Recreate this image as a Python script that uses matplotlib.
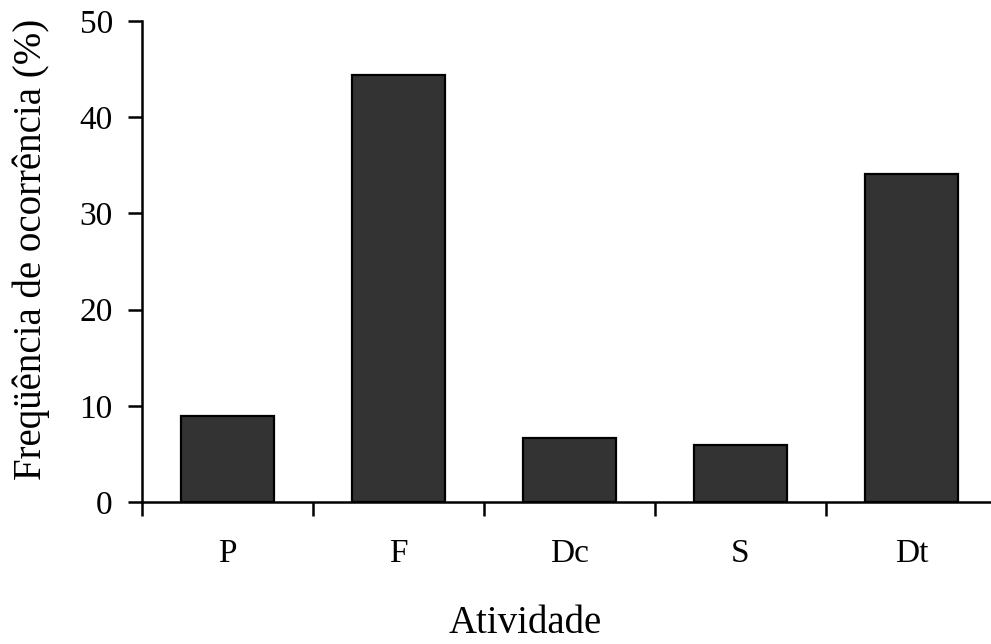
import numpy as np
import matplotlib
matplotlib.use("Agg")
import matplotlib.pyplot as plt

# dados
atividades = ["P", "F", "Dc", "S", "Dt"]
frequencia = [8.9, 44.4, 6.7, 5.9, 34.1]

plt.rcParams["font.family"] = ["Liberation Serif", "DejaVu Serif"]

W, H = 991, 644
fig = plt.figure(figsize=(W / 100, H / 100), dpi=100)
ax = fig.add_axes([142 / W, (H - 502) / H, 855 / W, 481 / H])

x = np.arange(len(atividades))
ax.bar(x, frequencia, width=0.54, color="#333333", edgecolor="black", linewidth=1.6)

ax.set_xlim(-0.5, len(atividades) - 0.5)
ax.set_ylim(0, 50)
ax.set_yticks([0, 10, 20, 30, 40, 50])
ax.set_xticks(x)
ax.set_xticklabels(atividades)
# ticks entre as categorias
ax.set_xticks(np.arange(len(atividades) + 1) - 0.5, minor=True)

for s in ["top", "right"]:
    ax.spines[s].set_visible(False)
for s in ["left", "bottom"]:
    ax.spines[s].set_linewidth(1.8)

ax.tick_params(axis="y", direction="out", length=10, width=1.8, labelsize=24, pad=11)
ax.tick_params(axis="x", which="major", length=0, labelsize=24, pad=26)
ax.tick_params(axis="x", which="minor", direction="out", length=10, width=1.8)

ax.set_xlabel("Atividade", fontsize=28)
ax.set_ylabel("Freqüência de ocorrência (%)", fontsize=28)
ax.xaxis.set_label_coords(0.448, -0.215)
ax.yaxis.set_label_coords(-0.108, 0.526)

fig.savefig("out.png", dpi=100)
